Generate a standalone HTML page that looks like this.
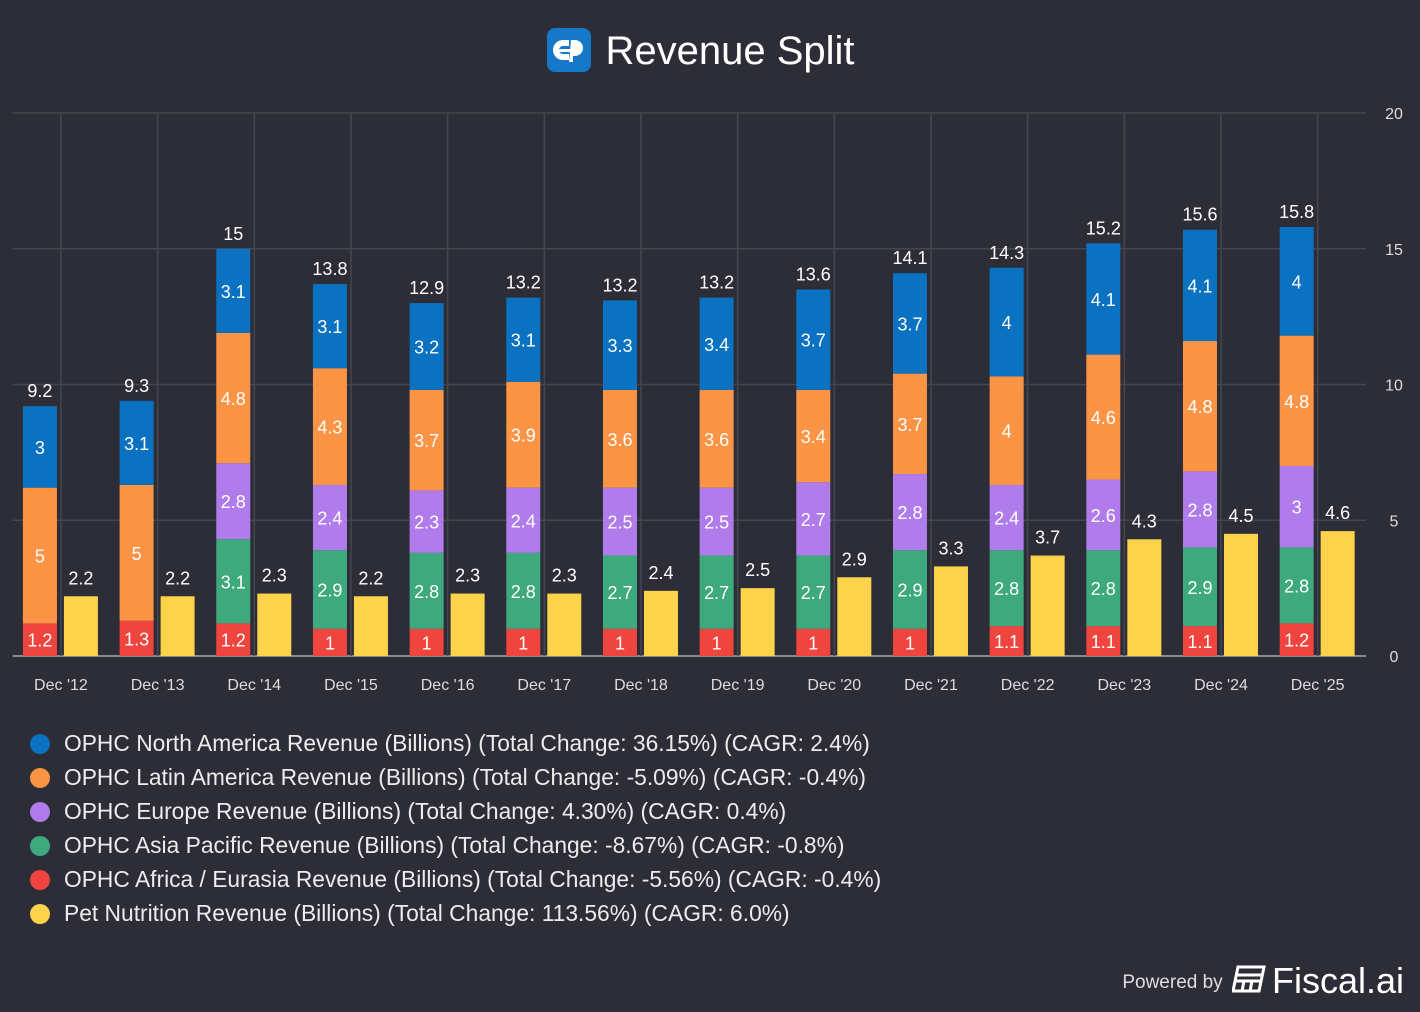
<!DOCTYPE html>
<html><head><meta charset="utf-8">
<style>
html,body{margin:0;padding:0;background:#2c2d37;}
body{width:1420px;height:1012px;overflow:hidden;position:relative;font-family:"Liberation Sans",Arial,sans-serif;color:#fff;}
#title{position:absolute;top:28px;left:-9px;width:1420px;text-align:center;font-size:40px;}
#title .ic{display:inline-block;width:44px;height:44px;background:#1578c8;border-radius:8px;vertical-align:-8px;margin-right:14px;position:relative;}
#legend{position:absolute;left:30px;top:728px;font-size:22.8px;color:#ececec;}
.li{height:34px;line-height:30px;}
.dot{display:inline-block;width:20px;height:20px;border-radius:50%;vertical-align:-3px;margin-right:14px;}
#powered{position:absolute;right:16px;top:960px;font-size:19px;color:#ddd;}
#powered b{font-size:36px;font-weight:normal;color:#fff;vertical-align:-5px;margin-left:6px;}
</style></head><body>
<div id="title"><span class="ic"><svg width="44" height="44" viewBox="0 0 44 44"><path d="M22 12 h-6 a10 10 0 0 0 0 20 h6 v-6 h-6 a4 4 0 0 1 0-8 h6z" fill="#fff"/><path d="M24 12 h4 a8 8 0 0 1 0 16 h-2 v6 h-4 z" fill="#fff"/><rect x="12" y="21" width="20" height="3" fill="#fff"/></svg></span>Revenue Split</div>
<svg id="chart" width="1420" height="720" style="position:absolute;left:0;top:0"></svg>
<div id="legend"></div>
<div id="powered">Powered by <svg width="34" height="28" viewBox="0 0 34 28" style="vertical-align:-5px;margin-left:4px"><path d="M6 2 h26 l-5 24 h-26 z" fill="none" stroke="#fff" stroke-width="3"/><path d="M5 10 h25 M4 16 h25 M12 16 l-2 10 M20 16 l-2 10" stroke="#fff" stroke-width="3"/></svg><b>Fiscal.ai</b></div>
<script>
const categories=["Dec '12","Dec '13","Dec '14","Dec '15","Dec '16","Dec '17","Dec '18","Dec '19","Dec '20","Dec '21","Dec '22","Dec '23","Dec '24","Dec '25"];
const africa=[1.2,1.3,1.2,1,1,1,1,1,1,1,1.1,1.1,1.1,1.2];
const asia=[0,0,3.1,2.9,2.8,2.8,2.7,2.7,2.7,2.9,2.8,2.8,2.9,2.8];
const europe=[0,0,2.8,2.4,2.3,2.4,2.5,2.5,2.7,2.8,2.4,2.6,2.8,3];
const latin=[5,5,4.8,4.3,3.7,3.9,3.6,3.6,3.4,3.7,4,4.6,4.8,4.8];
const northAm=[3,3.1,3.1,3.1,3.2,3.1,3.3,3.4,3.7,3.7,4,4.1,4.1,4];
const totals=[9.2,9.3,15,13.8,12.9,13.2,13.2,13.2,13.6,14.1,14.3,15.2,15.6,15.8];
const pet=[2.2,2.2,2.3,2.2,2.3,2.3,2.4,2.5,2.9,3.3,3.7,4.3,4.5,4.6];
const yTicks=[0,5,10,15,20];
const series=[
 {name:"OPHC Africa / Eurasia Revenue (Billions) (Total Change: -5.56%) (CAGR: -0.4%)",v:africa,c:"#f0443e",k:"africa"},
 {name:"OPHC Asia Pacific Revenue (Billions) (Total Change: -8.67%) (CAGR: -0.8%)",v:asia,c:"#3fa97e",k:"asia-pacific"},
 {name:"OPHC Europe Revenue (Billions) (Total Change: 4.30%) (CAGR: 0.4%)",v:europe,c:"#b07cec",k:"europe"},
 {name:"OPHC Latin America Revenue (Billions) (Total Change: -5.09%) (CAGR: -0.4%)",v:latin,c:"#fb9444",k:"latin-america"},
 {name:"OPHC North America Revenue (Billions) (Total Change: 36.15%) (CAGR: 2.4%)",v:northAm,c:"#0a72c0",k:"north-america"}];
const petColor="#fdd34c";
const X0=12.6,X1=1366,Y0=656,Y1=113,YMAX=20;
const step=(X1-X0)/categories.length;
const xc=i=>X0+step*(i+0.5);
const y=v=>Y0-(Y0-Y1)*v/YMAX;
const NS="http://www.w3.org/2000/svg";
const svg=document.getElementById('chart');
function mk(t,a,txt){const e=document.createElementNS(NS,t);for(const k in a)e.setAttribute(k,a[k]);if(txt!=null)e.textContent=txt;svg.appendChild(e);return e;}
yTicks.forEach(t=>{
 const l=mk('line',{x1:X0,x2:X1,y1:y(t),y2:y(t),stroke:t===0?'#8a8b92':'#45464f','stroke-width':t===0?2:1.5});
 
 
 const tx=mk('text',{x:1394,y:y(t)+6,'text-anchor':'middle','font-size':16,fill:'#ddd'},String(t));
 
 
});
categories.forEach((c,i)=>{
 const l=mk('line',{x1:xc(i),x2:xc(i),y1:Y1,y2:Y0,stroke:'#45464f','stroke-width':1.5});
 
 
 const t=mk('text',{x:xc(i),y:690,'text-anchor':'middle','font-size':16,fill:'#ddd'},c);
 
 
});
const BW=34;
categories.forEach((c,i)=>{
 let base=0;const bx=xc(i)-38;
 series.forEach(s=>{
  const v=s.v[i]; if(!v) return;
  const r=mk('rect',{x:bx,y:y(base+v),width:BW,height:y(base)-y(base+v),fill:s.c});
  
  
  const t=mk('text',{x:bx+BW/2,y:(y(base)+y(base+v))/2+7,'text-anchor':'middle','font-size':18,fill:'#fff'},String(v));
  
  
  base+=v;
 });
 const tt=mk('text',{x:bx+BW/2,y:y(base)-9,'text-anchor':'middle','font-size':18,fill:'#fff'},String(totals[i]));
 
 
 const px=xc(i)+3;
 const p=mk('rect',{x:px,y:y(pet[i]),width:BW,height:Y0-y(pet[i]),fill:petColor});
 
 
 const pt=mk('text',{x:px+BW/2,y:y(pet[i])-12,'text-anchor':'middle','font-size':18,fill:'#fff'},String(pet[i]));
 
 
});
const lg=document.getElementById('legend');
const entries=[series[4],series[3],series[2],series[1],series[0],{name:"Pet Nutrition Revenue (Billions) (Total Change: 113.56%) (CAGR: 6.0%)",c:petColor}];
entries.forEach(e=>{
 const d=document.createElement('div');d.className='li';
 
 
 d.innerHTML='<span class="dot" style="background:'+e.c+'"></span>'+e.name;
 lg.appendChild(d);
});
</script>
</body></html>
